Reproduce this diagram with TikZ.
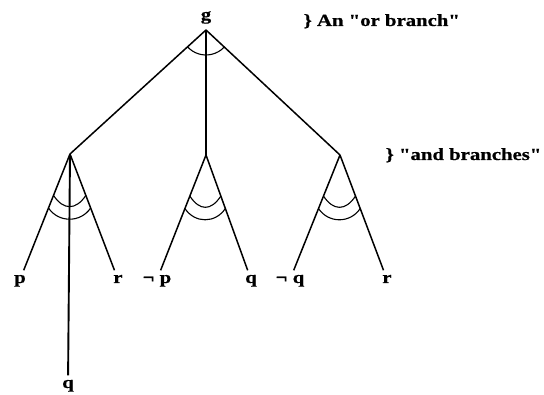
\documentclass[tikz,border=0pt]{standalone}
\usepackage{fontspec}
\newfontfamily\treefont{Liberation Serif}[FakeStretch=1.22, FakeBold=0.6]
\usetikzlibrary{calc}

\begin{document}
\begin{tikzpicture}[x=1pt, y=-1pt,
  lbl/.style={font=\treefont\bfseries\fontsize{17}{19}\selectfont, inner sep=1.5pt, text height=11pt, text depth=4pt, anchor=base},
  branch/.style={line width=1.5pt},
  arcline/.style={line width=1.1pt}]
\fill[white] (0,0) rectangle (544,395);
% or node and the three and nodes
\coordinate (top) at (206,30);
\node[lbl] (g) at (206,20) {g};
\coordinate (andL) at (70,154);
\coordinate (andM) at (206,155);
\coordinate (andR) at (340,155);
% leaves
\node[lbl] (pL) at (20,283) {p};
\node[lbl] (rL) at (118,283) {r};
\node[lbl] (qL) at (68,388) {q};
\node[lbl] (npM) at (157,283) {¬ p};
\node[lbl] (qM) at (251,283) {q};
\node[lbl] (nqR) at (290,283) {¬ q};
\node[lbl] (rR) at (387,283) {r};
% notes on the right
\node[lbl, anchor=base west] (orlbl) at (302,26) {\} An "or branch"};
\node[lbl, anchor=base west] (andlbl) at (384,160) {\} "and branches"};

\foreach \n in {andL,andM,andR} \draw[branch] (top) -- (\n);
\foreach \a/\b in {andL/pL, andL/rL, andM/npM, andM/qM, andR/nqR, andR/rR} \draw[branch] (\a) -- (\b);
\draw[line width=1.9pt] (andL) -- (qL);

% or arc
\draw[arcline] ($(top)!25pt!(andL)$) arc[start angle=222.4, end angle=317, radius=25pt];
% double and arcs
\foreach \n/\a/\b in {andL/pL/rL, andM/npM/qM, andR/nqR/rR} {
  \draw[arcline] ($(\n)!.33!(\a)$) .. controls +(10,15) and +(-10,15) .. ($(\n)!.33!(\b)$);
  \draw[arcline] ($(\n)!.43!(\a)$) .. controls +(10,15) and +(-10,15) .. ($(\n)!.43!(\b)$);
}
\end{tikzpicture}
\end{document}
